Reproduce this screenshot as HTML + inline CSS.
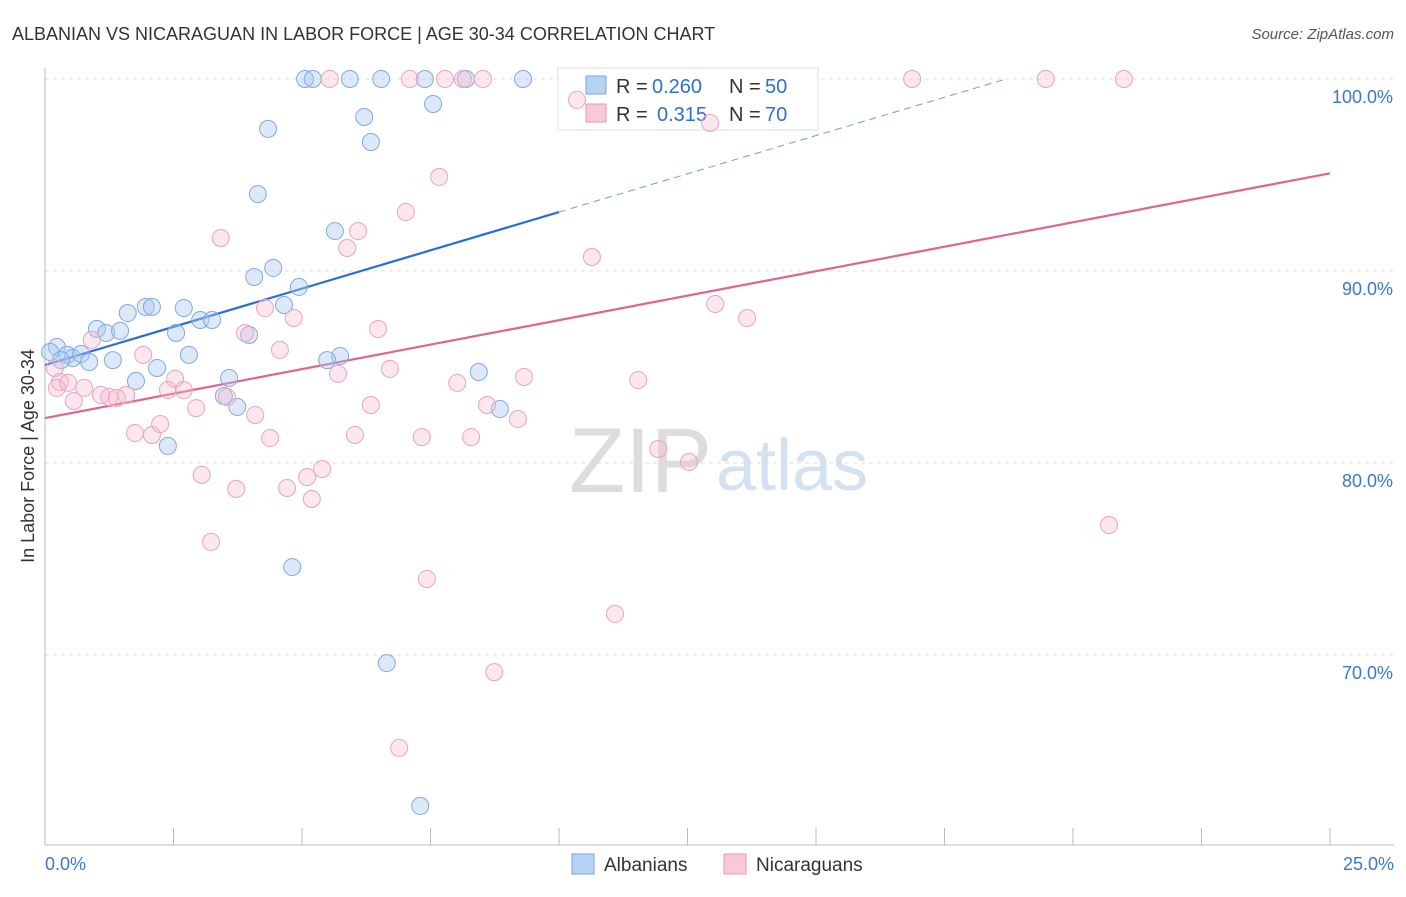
<!DOCTYPE html>
<html><head><meta charset="utf-8">
<style>
body{margin:0;background:#fff;font-family:"Liberation Sans",sans-serif;}
svg text{font-family:"Liberation Sans",sans-serif;}
</style></head>
<body>
<svg id="chart" width="1406" height="892" xmlns="http://www.w3.org/2000/svg">
<text x="12" y="40" font-size="18" fill="#333">ALBANIAN VS NICARAGUAN IN LABOR FORCE | AGE 30-34 CORRELATION CHART</text>
<text x="1394" y="39" font-size="15" fill="#555" font-style="italic" text-anchor="end">Source: ZipAtlas.com</text>
<text x="712" y="492" font-size="92" fill="#ddd" text-anchor="end" font-family="Liberation Serif">ZIP</text>
<text x="716" y="490" font-size="72" fill="#d3e1f3">atlas</text>
<g id="grid"></g>
<g id="axes"></g>
<g id="lines"></g>
<g>
<rect x="558" y="68" width="260" height="62" fill="#fff" stroke="#ddd"/>
<rect x="586" y="76" width="20" height="18" fill="#b8d2f3" stroke="#7aa6e0"/>
<rect x="586" y="104" width="20" height="18" fill="#f9c9d7" stroke="#e89ab0"/>
<text x="616" y="93" font-size="20" fill="#333">R =</text>
<text x="652" y="93" font-size="20" fill="#3070cc">0.260</text>
<text x="729" y="93" font-size="20" fill="#333">N =</text>
<text x="765" y="93" font-size="20" fill="#3070cc">50</text>
<text x="616" y="121" font-size="20" fill="#333">R =</text>
<text x="657" y="121" font-size="20" fill="#3070cc">0.315</text>
<text x="729" y="121" font-size="20" fill="#333">N =</text>
<text x="765" y="121" font-size="20" fill="#3070cc">70</text>
</g>
<g id="points"></g>
<text transform="translate(34,456) rotate(-90)" font-size="18" fill="#333" text-anchor="middle">In Labor Force | Age 30-34</text>
<g>
<rect x="572" y="854" width="22" height="20" fill="#b8d2f3" stroke="#7aa6e0"/>
<text x="604" y="871" font-size="19" fill="#333">Albanians</text>
<rect x="724" y="854" width="22" height="20" fill="#f9c9d7" stroke="#e89ab0"/>
<text x="756" y="871" font-size="19" fill="#333">Nicaraguans</text>
</g>
</svg>
<script>
const yTicks=[100,90,80,70];
const yTickLabels=["100.0%","90.0%","80.0%","70.0%"];
const xTickLabels=["0.0%","25.0%"];
const albX=[5.06,5.21,5.93,6.54,7.39,8.19,9.30,7.55,6.21,4.34,6.34,4.14,5.64,4.44,4.07,4.94,4.65,1.96,2.08,2.70,1.61,3.02,3.25,1.01,1.19,1.46,2.55,3.97,0.23,0.10,0.43,0.54,0.70,0.86,1.32,2.80,5.74,5.49,2.18,3.58,1.77,8.44,3.48,3.74,8.85,2.39,4.81,6.65,7.30,0.31];
const albY=[100,100,100,100,100,100,100,98.70,98.02,97.40,96.72,94.01,92.08,90.16,89.69,89.17,88.23,88.13,88.13,88.07,87.81,87.45,87.45,86.98,86.77,86.88,86.77,86.67,86.04,85.78,85.63,85.47,85.68,85.26,85.36,85.63,85.57,85.36,84.95,84.43,84.27,84.74,83.49,82.92,82.81,80.89,74.58,69.58,62.14,85.36];
const nicX=[5.54,7.10,7.78,8.13,8.52,16.87,19.47,20.99,10.35,12.94,7.67,7.02,3.42,6.09,5.88,10.64,13.04,13.66,4.28,4.84,6.48,3.89,0.91,4.57,1.91,5.70,6.71,9.32,11.54,0.19,0.29,0.23,0.45,0.76,2.53,2.39,2.70,8.02,1.09,1.25,1.40,1.58,0.56,2.94,3.54,4.09,6.34,8.60,9.20,2.24,1.75,2.08,4.38,6.03,7.33,8.29,11.93,12.53,3.05,5.39,5.10,3.72,4.71,5.19,3.23,7.43,20.70,11.09,8.74,6.89];
const nicY=[100,100,100,100,100,100,100,100,98.91,97.71,94.90,93.07,91.72,92.08,91.20,90.73,88.28,87.55,88.07,87.55,86.98,86.77,86.41,85.89,85.63,84.64,84.90,84.48,84.32,84.95,84.22,83.91,84.17,83.91,84.38,83.80,83.80,84.17,83.54,83.44,83.39,83.54,83.23,82.86,83.44,82.50,83.02,83.02,82.29,82.03,81.56,81.46,81.30,81.46,81.35,81.35,80.73,80.05,79.38,79.69,79.27,78.65,78.70,78.13,75.89,73.96,76.77,72.14,69.11,65.16];
const albTrend=[85.1,0.797];
const nicTrend=[82.34,0.51];
const NS="http://www.w3.org/2000/svg";
const sx=v=>45+v*51.4;
const sy=v=>79+(100-v)*19.2;
function mk(tag,attrs,parent){const e=document.createElementNS(NS,tag);for(const k in attrs)e.setAttribute(k,attrs[k]);parent.appendChild(e);return e;}
const grid=document.getElementById('grid'),axes=document.getElementById('axes');
yTicks.forEach((t,i)=>{
  const l=mk('line',{x1:45,x2:1394,y1:sy(t),y2:sy(t),stroke:'#ddd','stroke-dasharray':'4,4'},grid);
  
  
  const tx=mk('text',{x:1393,y:sy(t)+24,'font-size':18,fill:'#3a78d0','text-anchor':'end'},axes);
  tx.textContent=yTickLabels[i];
  
  
});
let a=mk('line',{x1:45,x2:45,y1:68,y2:845,stroke:'#bbb'},axes);


a=mk('line',{x1:45,x2:1394,y1:845,y2:845,stroke:'#bbb'},axes);


for(let i=0;i<=10;i++){
  const t=mk('line',{x1:sx(i*2.5),x2:sx(i*2.5),y1:828,y2:845,stroke:'#bbb'},axes);
  
  
}
[[0,'start',45],[25,'end',1394]].forEach((d,i)=>{
  const tx=mk('text',{x:d[2],y:870,'font-size':18,fill:'#3a78d0','text-anchor':d[1]},axes);
  tx.textContent=xTickLabels[i];
  
  
});
const lines=document.getElementById('lines');
const tb=x=>albTrend[0]+albTrend[1]*x, tp=x=>nicTrend[0]+nicTrend[1]*x;
let ln=mk('line',{x1:sx(0),y1:sy(tb(0)),x2:sx(10),y2:sy(tb(10)),stroke:'#2a6fd4','stroke-width':2.2},lines);


const xe=(100-albTrend[0])/albTrend[1];
ln=mk('line',{x1:sx(10),y1:sy(tb(10)),x2:sx(xe),y2:sy(100),stroke:'#6a9ee0','stroke-width':1,'stroke-dasharray':'7,5'},lines);


ln=mk('line',{x1:sx(0),y1:sy(tp(0)),x2:sx(25),y2:sy(tp(25)),stroke:'#e0648e','stroke-width':2.2},lines);


const pts=document.getElementById('points');
albX.forEach((x,i)=>{
  const c=mk('circle',{cx:sx(x),cy:sy(albY[i]),r:8.5,fill:'rgba(170,200,240,0.4)',stroke:'#80aae3','stroke-width':1},pts);
  
  
});
nicX.forEach((x,i)=>{
  const c=mk('circle',{cx:sx(x),cy:sy(nicY[i]),r:8.5,fill:'rgba(245,185,205,0.35)',stroke:'#eba4ba','stroke-width':1},pts);
  
  
});
</script>
</body></html>
